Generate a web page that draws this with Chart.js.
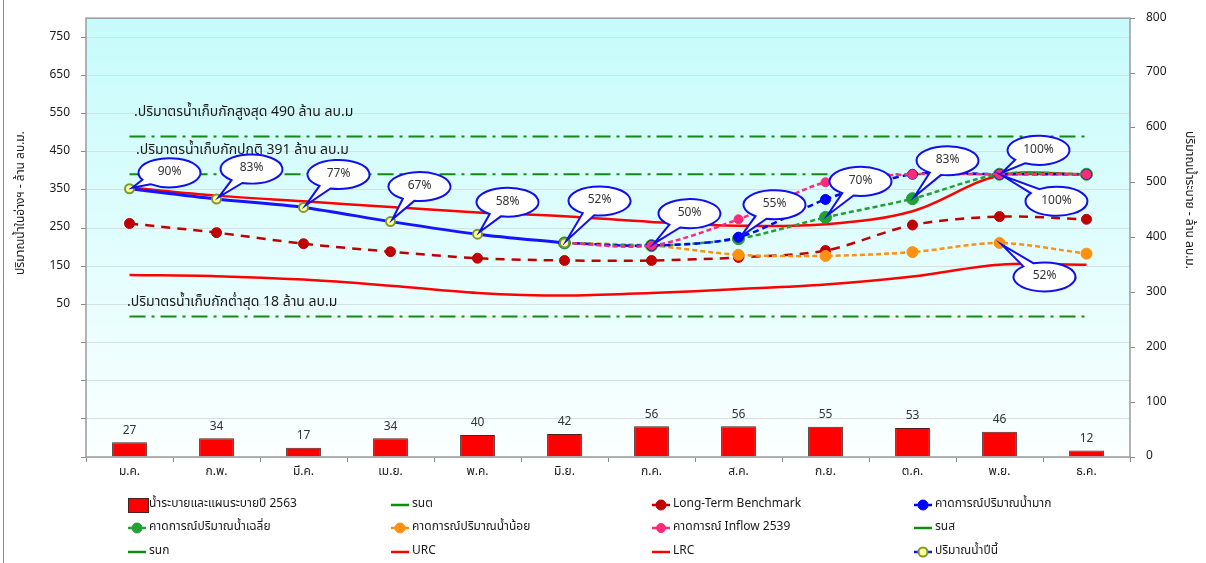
<!DOCTYPE html>
<html>
<head>
<meta charset="utf-8">
<script src="https://cdn.jsdelivr.net/npm/chart.js@4.4.1/dist/chart.umd.min.js"></script>
<style>
  html, body { margin: 0; padding: 0; background: #fff; }
  #wrap { position: relative; width: 1206px; height: 563px; }
</style>
</head>
<body>
<div id="wrap"><canvas id="c" width="1206" height="563"></canvas></div>
<script>
const FONT = "Tahoma, 'Noto Sans Thai', 'Leelawadee UI', 'Noto Sans', 'DejaVu Sans', sans-serif";

// Months (Thai abbreviations)
const months = ['ม.ค.', 'ก.พ.', 'มี.ค.', 'เม.ย.', 'พ.ค.', 'มิ.ย.', 'ก.ค.', 'ส.ค.', 'ก.ย.', 'ต.ค.', 'พ.ย.', 'ธ.ค.'];

// Release volumes 2563 (right axis, million m3)
const release2563 = [27, 34, 17, 34, 40, 42, 56, 56, 55, 53, 46, 12];

// Storage this year and forecasts (left axis, million m3)
const thisYear = [353, 326, 304, 267, 234, 211, null, null, null, null, null, null];
const fcHigh   = [null, null, null, null, null, 211, 204, 226, 325, 391, 391, 391];
const fcAvg    = [null, null, null, null, null, 211, 204, 222, 278, 327, 391, 391];
const fcLow    = [null, null, null, null, null, 211, 204, 180, 177, 187, 211, 183];
const fc2539   = [null, null, null, null, null, 211, 204, 273, 370, 391, 391, 391];
const longTerm = [262, 238, 209, 188, 171, 165, 165, 173, 191, 258, 280, 273];
const urc      = [356, 335, 320, 305, 291, 281, 266, 256, 260, 294, 388, 391];
const lrc      = [127, 124, 115, 99, 80, 73, 80, 90, 102, 123, 154, 154];

// Storage levels
const levelMax = 490;
const levelNormal = 391;
const levelMin = 18;

// Axis ticks
const leftTicks = [-350, -250, -150, -50, 50, 150, 250, 350, 450, 550, 650, 750];
const rightTicks = [0, 100, 200, 300, 400, 500, 600, 700, 800];

const pctOf = v => Math.round((v - levelMin) / (levelNormal - levelMin) * 100) + '%';
const flat = v => months.map(() => v);

const REF_DASH = [16, 6, 3, 6];

const datasets = [
  { type: 'line', label: 'ปริมาณน้ำปีนี้', data: thisYear, yAxisID: 'y', order: 1,
    borderColor: '#1414ff', borderWidth: 3, tension: 0.3,
    pointRadius: 4.5, pointBackgroundColor: '#ffff99', pointBorderColor: '#7a9a2a', pointBorderWidth: 2 },
  { type: 'line', label: 'คาดการณ์ Inflow 2539', data: fc2539, yAxisID: 'y', order: 2,
    borderColor: '#ff2a7a', borderWidth: 2.5, borderDash: [5, 3], tension: 0.3,
    pointRadius: 4.5, pointBackgroundColor: '#ff2a7a', pointBorderColor: '#ff2a7a', pointBorderWidth: 1 },
  { type: 'line', label: 'คาดการณ์ปริมาณน้ำมาก', data: fcHigh, yAxisID: 'y', order: 3,
    borderColor: '#0000ff', borderWidth: 2.5, borderDash: [6, 4], tension: 0.3,
    pointRadius: 5, pointBackgroundColor: '#0000ff', pointBorderColor: '#0000ff', pointBorderWidth: 1 },
  { type: 'line', label: 'คาดการณ์ปริมาณน้ำเฉลี่ย', data: fcAvg, yAxisID: 'y', order: 4,
    borderColor: '#22a034', borderWidth: 2.5, borderDash: [5, 3], tension: 0.3,
    pointRadius: 6, pointBackgroundColor: '#22a034', pointBorderColor: '#22a034', pointBorderWidth: 1 },
  { type: 'line', label: 'คาดการณ์ปริมาณน้ำน้อย', data: fcLow, yAxisID: 'y', order: 5,
    borderColor: '#ff9010', borderWidth: 2.5, borderDash: [5, 3], tension: 0.3,
    pointRadius: 5.5, pointBackgroundColor: '#ff9010', pointBorderColor: '#ff9010', pointBorderWidth: 1 },
  { type: 'line', label: 'Long-Term Benchmark', data: longTerm, yAxisID: 'y', order: 6,
    borderColor: '#c00000', borderWidth: 2.5, borderDash: [9, 7], tension: 0.3,
    pointRadius: 5, pointBackgroundColor: '#c00000', pointBorderColor: '#c00000', pointBorderWidth: 1 },
  { type: 'line', label: 'URC', data: urc, yAxisID: 'y', order: 7,
    borderColor: '#ff0000', borderWidth: 2.5, tension: 0.35, pointRadius: 0 },
  { type: 'line', label: 'LRC', data: lrc, yAxisID: 'y', order: 7,
    borderColor: '#ff0000', borderWidth: 2.5, tension: 0.35, pointRadius: 0 },
  { type: 'line', label: 'รนส', data: flat(levelMax), yAxisID: 'y', order: 8,
    borderColor: '#138a13', borderWidth: 2, borderDash: REF_DASH, tension: 0, pointRadius: 0 },
  { type: 'line', label: 'รนก', data: flat(levelNormal), yAxisID: 'y', order: 8,
    borderColor: '#138a13', borderWidth: 2, borderDash: REF_DASH, tension: 0, pointRadius: 0 },
  { type: 'line', label: 'รนต', data: flat(levelMin), yAxisID: 'y', order: 8,
    borderColor: '#138a13', borderWidth: 2, borderDash: REF_DASH, tension: 0, pointRadius: 0 },
  { type: 'bar', label: 'น้ำระบายและแผนระบายปี 2563', data: release2563, yAxisID: 'y1', order: 9,
    backgroundColor: '#ff0000', borderColor: '#4a2020', borderWidth: 1,
    barPercentage: 0.4, categoryPercentage: 1.0 }
];

// Legend grid: 4 columns x 3 rows
const legendOrder = [
  'น้ำระบายและแผนระบายปี 2563', 'รนต', 'Long-Term Benchmark', 'คาดการณ์ปริมาณน้ำมาก',
  'คาดการณ์ปริมาณน้ำเฉลี่ย', 'คาดการณ์ปริมาณน้ำน้อย', 'คาดการณ์ Inflow 2539', 'รนส',
  'รนก', 'URC', 'LRC', 'ปริมาณน้ำปีนี้'
];
const legendCols = [128, 391, 652, 914];
const legendRows = [505, 528, 552];

// Storage level captions above the reference lines
const levelCaptions = [
  { v: levelMax,    text: `.ปริมาตรน้ำเก็บกักสูงสุด ${levelMax} ล้าน ลบ.ม`,  x: 134, dy: -23 },
  { v: levelNormal, text: `.ปริมาตรน้ำเก็บกักปกติ ${levelNormal} ล้าน ลบ.ม`, x: 136, dy: -23 },
  { v: levelMin,    text: `.ปริมาตรน้ำเก็บกักต่ำสุด ${levelMin} ล้าน ลบ.ม`,  x: 127, dy: -13 }
];

// Percentage callouts: series, month index, bubble offset from the point
const callouts = [
  { data: thisYear, i: 0,  dx: 40, dy: -16 },
  { data: thisYear, i: 1,  dx: 35, dy: -30 },
  { data: thisYear, i: 2,  dx: 35, dy: -33 },
  { data: thisYear, i: 3,  dx: 29, dy: -35 },
  { data: thisYear, i: 4,  dx: 30, dy: -32 },
  { data: thisYear, i: 5,  dx: 35, dy: -42 },
  { data: fcAvg,    i: 6,  dx: 38, dy: -32 },
  { data: fcAvg,    i: 7,  dx: 36, dy: -34 },
  { data: fcAvg,    i: 8,  dx: 35, dy: -36 },
  { data: fcAvg,    i: 9,  dx: 35, dy: -38 },
  { data: fcHigh,   i: 10, dx: 39, dy: -24 },
  { data: fcAvg,    i: 10, dx: 57, dy: 27 },
  { data: fcLow,    i: 10, dx: 45, dy: 34 }
];

const backdrop = {
  id: 'backdrop',
  beforeDraw(chart) {
    const { ctx, chartArea: a } = chart;
    ctx.save();
    ctx.fillStyle = '#ffffff';
    ctx.fillRect(0, 0, chart.width, chart.height);
    const g = ctx.createLinearGradient(0, a.top, 0, a.bottom);
    g.addColorStop(0, '#c6fbfb');
    g.addColorStop(1, '#fbffff');
    ctx.fillStyle = g;
    ctx.fillRect(a.left, a.top, a.right - a.left, a.bottom - a.top);
    ctx.strokeStyle = '#8a8a8a';
    ctx.lineWidth = 1;
    ctx.beginPath();
    ctx.moveTo(3.5, 0); ctx.lineTo(3.5, chart.height);
    ctx.stroke();
    ctx.restore();
  }
};

function drawBubble(ctx, cx, cy, ax, ay, text) {
  const rx = 31, ry = 14.5;
  const t = Math.atan2((ay - cy) / ry, (ax - cx) / rx);
  const d = 0.2;
  ctx.save();
  ctx.beginPath();
  ctx.ellipse(cx, cy, rx, ry, 0, t + d, t - d + Math.PI * 2);
  ctx.lineTo(ax, ay);
  ctx.closePath();
  ctx.fillStyle = '#ffffff';
  ctx.fill();
  ctx.strokeStyle = '#1010ee';
  ctx.lineWidth = 2;
  ctx.lineJoin = 'miter';
  ctx.stroke();
  ctx.fillStyle = '#333333';
  ctx.font = `12px ${FONT}`;
  ctx.textAlign = 'center';
  ctx.textBaseline = 'middle';
  ctx.fillText(text, cx, cy);
  ctx.restore();
}

const annotations = {
  id: 'annotations',
  afterDatasetsDraw(chart) {
    const { ctx, chartArea: a, scales } = chart;
    const xs = scales.x, ys = scales.y;
    ctx.save();

    // plot frame
    ctx.strokeStyle = '#9a9a9a';
    ctx.lineWidth = 1.5;
    ctx.strokeRect(a.left, a.top, a.right - a.left, a.bottom - a.top);

    // level captions
    ctx.fillStyle = '#1a1a1a';
    ctx.font = `14px ${FONT}`;
    ctx.textAlign = 'left';
    ctx.textBaseline = 'middle';
    levelCaptions.forEach(c => ctx.fillText(c.text, c.x, ys.getPixelForValue(c.v) + c.dy));

    // bar value labels
    const barIdx = chart.data.datasets.findIndex(d => d.type === 'bar');
    const meta = chart.getDatasetMeta(barIdx);
    ctx.font = `12px ${FONT}`;
    ctx.fillStyle = '#333333';
    ctx.textAlign = 'center';
    ctx.textBaseline = 'bottom';
    meta.data.forEach((el, i) => ctx.fillText(String(release2563[i]), el.x, el.y - 5));

    // percentage callouts
    callouts.forEach(c => {
      const v = c.data[c.i];
      const px = xs.getPixelForValue(c.i);
      const py = ys.getPixelForValue(v);
      const cx = px + c.dx, cy = py + c.dy;
      const len = Math.hypot(cx - px, cy - py);
      const ax = px + (cx - px) / len * 3, ay = py + (cy - py) / len * 3;
      drawBubble(ctx, cx, cy, ax, ay, pctOf(v));
    });
    ctx.restore();
  },
  afterDraw(chart) {
    const { ctx } = chart;
    ctx.save();
    // axis titles
    ctx.fillStyle = '#1a1a1a';
    ctx.font = `12px ${FONT}`;
    ctx.textAlign = 'center';
    ctx.textBaseline = 'middle';
    ctx.save();
    ctx.translate(22, 203);
    ctx.rotate(-Math.PI / 2);
    ctx.fillText('ปริมาณน้ำในอ่างฯ - ล้าน ลบ.ม.', 0, 0);
    ctx.restore();
    ctx.save();
    ctx.translate(1188, 200);
    ctx.rotate(Math.PI / 2);
    ctx.fillText('ปริมาณน้ำระบาย - ล้าน ลบ.ม.', 0, 0);
    ctx.restore();

    // legend
    legendOrder.forEach((label, k) => {
      const ds = chart.data.datasets.find(d => d.label === label);
      const x = legendCols[k % 4], y = legendRows[Math.floor(k / 4)];
      if (ds.type === 'bar') {
        ctx.fillStyle = ds.backgroundColor;
        ctx.fillRect(x, y - 7, 20, 14);
        ctx.strokeStyle = ds.borderColor;
        ctx.lineWidth = 1;
        ctx.strokeRect(x + 0.5, y - 6.5, 20, 14);
      } else {
        ctx.strokeStyle = ds.borderColor;
        ctx.lineWidth = 2.5;
        ctx.setLineDash([]);
        ctx.beginPath();
        ctx.moveTo(x, y); ctx.lineTo(x + 18, y);
        ctx.stroke();
        if (ds.pointRadius > 0) {
          ctx.beginPath();
          ctx.arc(x + 9, y, Math.min(ds.pointRadius, 5), 0, Math.PI * 2);
          ctx.fillStyle = ds.pointBackgroundColor;
          ctx.fill();
          ctx.strokeStyle = ds.pointBorderColor;
          ctx.lineWidth = ds.pointBorderWidth || 1;
          ctx.stroke();
        }
      }
      ctx.fillStyle = '#1a1a1a';
      ctx.font = `12px ${FONT}`;
      ctx.textAlign = 'left';
      ctx.textBaseline = 'middle';
      ctx.fillText(label, x + 21, y);
    });
    ctx.restore();
  }
};

new Chart(document.getElementById('c'), {
  type: 'bar',
  data: { labels: months, datasets },
  options: {
    responsive: false,
    devicePixelRatio: 1,
    animation: false,
    layout: { padding: { top: 16, left: 0, right: 0, bottom: 0 } },
    plugins: { legend: { display: false }, tooltip: { enabled: false } },
    scales: {
      x: {
        type: 'category',
        offset: true,
        grid: { display: true, drawOnChartArea: false, drawTicks: true, tickLength: 5, offset: true, color: '#8a8a8a' },
        border: { display: false },
        ticks: { color: '#1a1a1a', font: { family: FONT, size: 12 }, padding: 3, maxRotation: 0 },
        afterFit: s => { s.height = 106; }
      },
      y: {
        position: 'left',
        min: -350, max: 800,
        afterBuildTicks: s => { s.ticks = leftTicks.map(v => ({ value: v })); },
        grid: { color: '#d5e0e0', tickColor: '#8a8a8a', tickLength: 5, drawTicks: true },
        border: { display: false },
        ticks: { color: '#1a1a1a', font: { family: FONT, size: 12 }, padding: 11,
                 callback: v => (v >= 50 ? String(v) : '') },
        afterFit: s => { s.width = 86; }
      },
      y1: {
        position: 'right',
        min: 0, max: 800,
        afterBuildTicks: s => { s.ticks = rightTicks.map(v => ({ value: v })); },
        grid: { drawOnChartArea: false, color: '#8a8a8a', tickLength: 5 },
        border: { display: false },
        ticks: { color: '#1a1a1a', font: { family: FONT, size: 12 }, padding: 11 },
        afterFit: s => { s.width = 76; }
      }
    }
  },
  plugins: [backdrop, annotations]
});
</script>
</body>
</html>
